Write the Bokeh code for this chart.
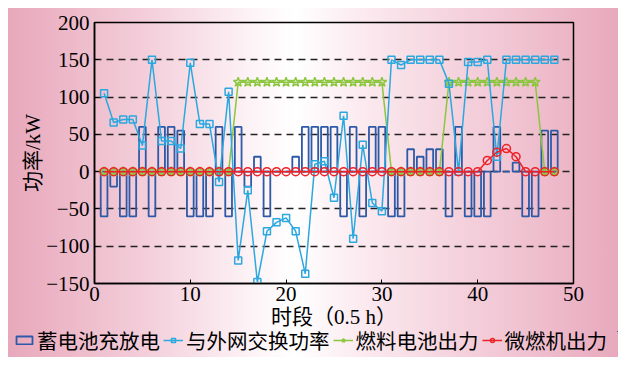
from bokeh.plotting import figure
from bokeh.layouts import column
from bokeh.models import ColumnDataSource, Legend, LegendItem, Range1d, FixedTicker
from bokeh.embed import file_html
from bokeh.resources import INLINE

# ---------------- data ----------------
periods = [1, 2, 3, 4, 5, 6, 7, 8, 9, 10, 11, 12, 13, 14, 15, 16, 17, 18, 19, 20, 21, 22, 23, 24,
           25, 26, 27, 28, 29, 30, 31, 32, 33, 34, 35, 36, 37, 38, 39, 40, 41, 42, 43, 44, 45, 46, 47, 48]
battery = [-60, -20, -60, -60, 60, -60, 60, 60, 55, -60,
           -60, -60, 60, -60, 60, -20, 20, -60, 0, 0,
           20, 60, 60, 60, 60, -60, 60, -60, 60, 60,
           -60, -60, 30, 20, 30, 30, -60, 60, -60, -60,
           -60, 60, 0, 12, -60, -60, 55, 55]
grid_exchange = [105, 66, 70, 70, 35, 150, 41, 41, 31, 146,
                 64, 64, -14, 107, -119, -25, -148, -80, -68, -62,
                 -80, -137, 10, 14, -35, 75, -90, 36, -42, -53,
                 150, 143, 150, 150, 150, 150, 118, 0, 147, 147,
                 150, 20, 150, 150, 150, 150, 150, 150]
fuel_cell = [0, 0, 0, 0, 0, 0, 0, 0, 0, 0,
             0, 0, 0, 0, 120, 120, 120, 120, 120, 120,
             120, 120, 120, 120, 120, 120, 120, 120, 120, 120,
             0, 0, 0, 0, 0, 0, 120, 120, 120, 120,
             120, 120, 120, 120, 120, 120, 0, 0]
micro_turbine = [0, 0, 0, 0, 0, 0, 0, 0, 0, 0,
                 0, 0, 0, 0, 0, 0, 0, 0, 0, 0,
                 0, 0, 0, 0, 0, 0, 0, 0, 0, 0,
                 0, 0, 0, 0, 0, 0, 0, 0, 0, 0,
                 15, 26, 31, 20, 0, 0, 0, 0]

x_ticks = [0, 10, 20, 30, 40, 50]
y_ticks = [-150, -100, -50, 0, 50, 100, 150, 200]
series_names = ["蓄电池充放电", "与外网交换功率", "燃料电池出力", "微燃机出力"]
x_title = "时段（0.5 h）"
y_title = "功率/kW"

# ---------------- style ----------------
FONT = "Liberation Serif, Noto Sans CJK SC"
C_BAR = "#2d5aa8"
C_GRID = "#2aa8e0"
C_FC = "#8cc63f"
C_MT = "#ec2228"
GRADIENT = ("linear-gradient(to right, #e8a8bc 0%, #f3cdd9 22%, #fdf3f6 40%, "
            "#ffffff 47%, #fbeaef 58%, #f2c9d6 80%, #e8a9bd 100%)")

src = ColumnDataSource(dict(t=periods, battery=battery, grid=grid_exchange,
                            fc=fuel_cell, mt=micro_turbine))


def add_series(fig):
    r_bar = fig.vbar(x="t", top="battery", bottom=0, width=0.7, fill_color=None,
                     line_color=C_BAR, line_width=1.8, source=src)
    r_fc_l = fig.line("t", "fc", line_color=C_FC, line_width=1.5, source=src)
    r_fc_m = fig.scatter("t", "fc", marker="star", size=10, fill_color=None,
                         line_color=C_FC, line_width=1.5, source=src)
    r_g_l = fig.line("t", "grid", line_color=C_GRID, line_width=1.5, source=src)
    r_g_m = fig.scatter("t", "grid", marker="square", size=7, fill_color=None,
                        line_color=C_GRID, line_width=1.5, source=src)
    r_mt_l = fig.line("t", "mt", line_color=C_MT, line_width=1.5, source=src)
    r_mt_m = fig.scatter("t", "mt", marker="circle", size=8, fill_color=None,
                         line_color=C_MT, line_width=1.5, source=src)
    return [[r_bar], [r_g_l, r_g_m], [r_fc_l, r_fc_m], [r_mt_l, r_mt_m]]


# ---------------- main chart ----------------
p = figure(width=610, height=323, output_backend="svg", toolbar_location=None,
           x_range=Range1d(0, 50), y_range=Range1d(-150, 200),
           min_border_left=86, min_border_right=45, min_border_top=14, min_border_bottom=48)
p.frame_align = False
p.background_fill_alpha = 0
p.border_fill_alpha = 0
p.outline_line_color = "black"
p.outline_line_width = 1.5

p.xgrid.visible = False
p.ygrid.grid_line_color = "#222222"
p.ygrid.grid_line_dash = "7 5"
p.ygrid.grid_line_width = 1.3

p.xaxis.ticker = FixedTicker(ticks=x_ticks)
p.yaxis.ticker = FixedTicker(ticks=y_ticks)
for ax in (p.xaxis[0], p.yaxis[0]):
    ax.axis_line_color = "black"
    ax.axis_line_width = 1.5
    ax.major_tick_in = 4
    ax.major_tick_out = 0
    ax.major_tick_line_color = "black"
    ax.minor_tick_line_color = None
    ax.major_label_text_font = FONT
    ax.major_label_text_font_size = "21px"
    ax.major_label_text_color = "black"
    ax.axis_label_text_font = FONT
    ax.axis_label_text_font_size = "21px"
    ax.axis_label_text_font_style = "normal"
    ax.axis_label_text_color = "black"

p.xaxis.axis_label = x_title
p.yaxis.axis_label = y_title
p.xaxis.major_label_standoff = 3
p.xaxis.axis_label_standoff = 1
p.yaxis.major_label_standoff = 5
p.yaxis.axis_label_standoff = -2

add_series(p)

# ---------------- legend strip ----------------
pl = figure(width=610, height=26, output_backend="svg", toolbar_location=None,
            x_range=Range1d(-1000, -999), y_range=Range1d(-1000, -999),
            x_axis_location=None, y_axis_location=None,
            min_border_left=0, min_border_right=0, min_border_top=0, min_border_bottom=0)
pl.frame_align = False
pl.background_fill_alpha = 0
pl.border_fill_alpha = 0
pl.outline_line_color = None
pl.xgrid.visible = False
pl.ygrid.visible = False
groups = add_series(pl)

legend = Legend(items=[LegendItem(label=name, renderers=rs) for name, rs in zip(series_names, groups)],
                location=(6, 2), orientation="horizontal")
legend.background_fill_alpha = 0
legend.border_line_alpha = 0
legend.padding = 0
legend.margin = 0
legend.spacing = 3
legend.label_standoff = 3
legend.glyph_width = 20
legend.glyph_height = 10
legend.label_height = 22
legend.label_text_font = FONT
legend.label_text_font_size = "20.5px"
legend.label_text_color = "black"
pl.add_layout(legend, "center")

lay = column(p, pl, spacing=0)
lay.margin = (8, 8, 8, 8)
lay.styles = {"background": GRADIENT}

open("out.html", "w").write(file_html(lay, INLINE))
